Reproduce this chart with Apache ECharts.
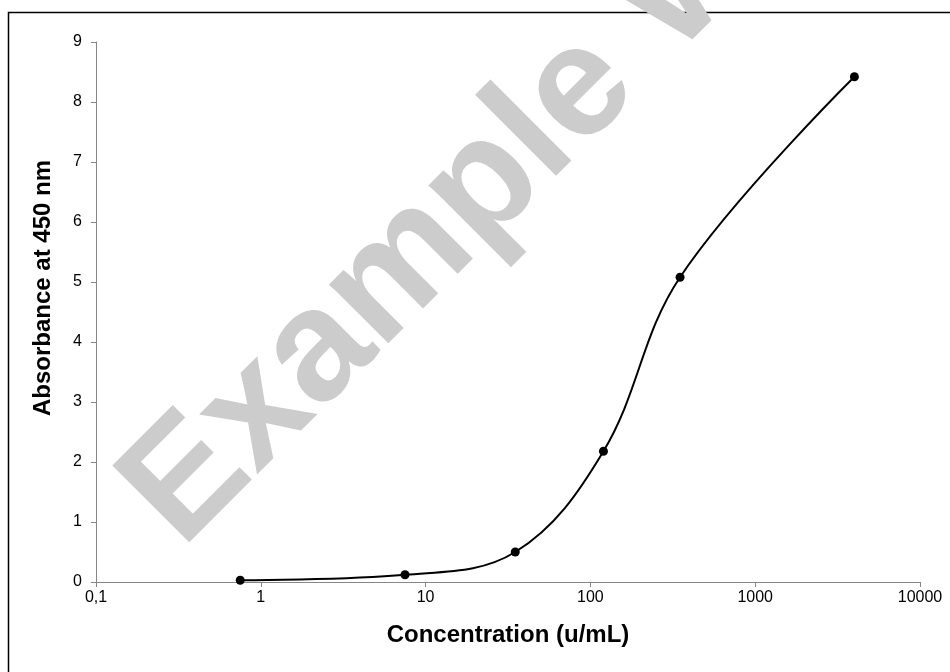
<!DOCTYPE html>
<html>
<head>
<meta charset="utf-8">
<script src="https://cdn.jsdelivr.net/npm/echarts@6/dist/echarts.min.js"></script>
<style>html,body{margin:0;padding:0;background:#fff}#c{width:950px;height:672px}</style>
</head>
<body>
<div id="c"></div>
<script>
const concentrations = [0.75, 7.5, 35, 120, 350, 4000];
const absorbance = [0.03, 0.12, 0.50, 2.18, 5.08, 8.42];
const xTitle = 'Concentration (u/mL)';
const yTitle = 'Absorbance at 450 nm';
const watermarkText = 'Example Watermark';

const chart = echarts.init(document.getElementById('c'));
const font = '"Liberation Sans", Arial, sans-serif';
chart.setOption({
  animation: false,
  backgroundColor: '#fff',
  grid: { left: 96, top: 42, right: 30, bottom: 90 },
  xAxis: {
    type: 'log', logBase: 10, min: 0.1, max: 10000,
    name: xTitle, nameLocation: 'middle', nameGap: 41,
    nameTextStyle: { fontFamily: font, fontWeight: 'bold', fontSize: 24, color: '#000' },
    axisLine: { lineStyle: { color: '#868686', width: 1 } },
    axisTick: { show: true, length: 5, lineStyle: { color: '#868686' } },
    minorTick: { show: false },
    splitLine: { show: false },
    axisLabel: {
      fontFamily: font, fontSize: 16, color: '#000', margin: 8,
      formatter: v => (v < 1 ? String(+v.toFixed(4)).replace('.', ',') : String(Math.round(v)))
    }
  },
  yAxis: {
    type: 'value', min: 0, max: 9, interval: 1,
    axisLine: { show: true, lineStyle: { color: '#868686', width: 1 } },
    axisTick: { show: true, length: 5, lineStyle: { color: '#868686' } },
    splitLine: { show: false },
    axisLabel: { fontFamily: font, fontSize: 16, color: '#000', margin: 14 }
  },
  series: [{
    type: 'line',
    data: concentrations.map((c, i) => [c, absorbance[i]]),
    smooth: 0.37,
    symbol: 'circle', symbolSize: 9,
    itemStyle: { color: '#000' },
    lineStyle: { color: '#000', width: 2 },
    z: 3
  }],
  graphic: [
    { type: 'rect', shape: { x: 8.5, y: 12.5, width: 1000, height: 1000 },
      style: { fill: 'none', stroke: '#000', lineWidth: 1.5 }, z: 1 },
    { type: 'text', x: 43, y: 288, rotation: Math.PI / 2, z: 5,
      style: { text: yTitle, fill: '#000', fontFamily: font, fontWeight: 'bold', fontSize: 24,
               textAlign: 'center', textVerticalAlign: 'middle' } },
    { type: 'text', x: 151, y: 519, rotation: 45 * Math.PI / 180, z: 100,
      style: { text: watermarkText, fill: '#cccccc', fontFamily: font, fontWeight: 'bold', fontSize: 158,
               textAlign: 'left', textVerticalAlign: 'middle' } }
  ]
});
</script>
</body>
</html>
